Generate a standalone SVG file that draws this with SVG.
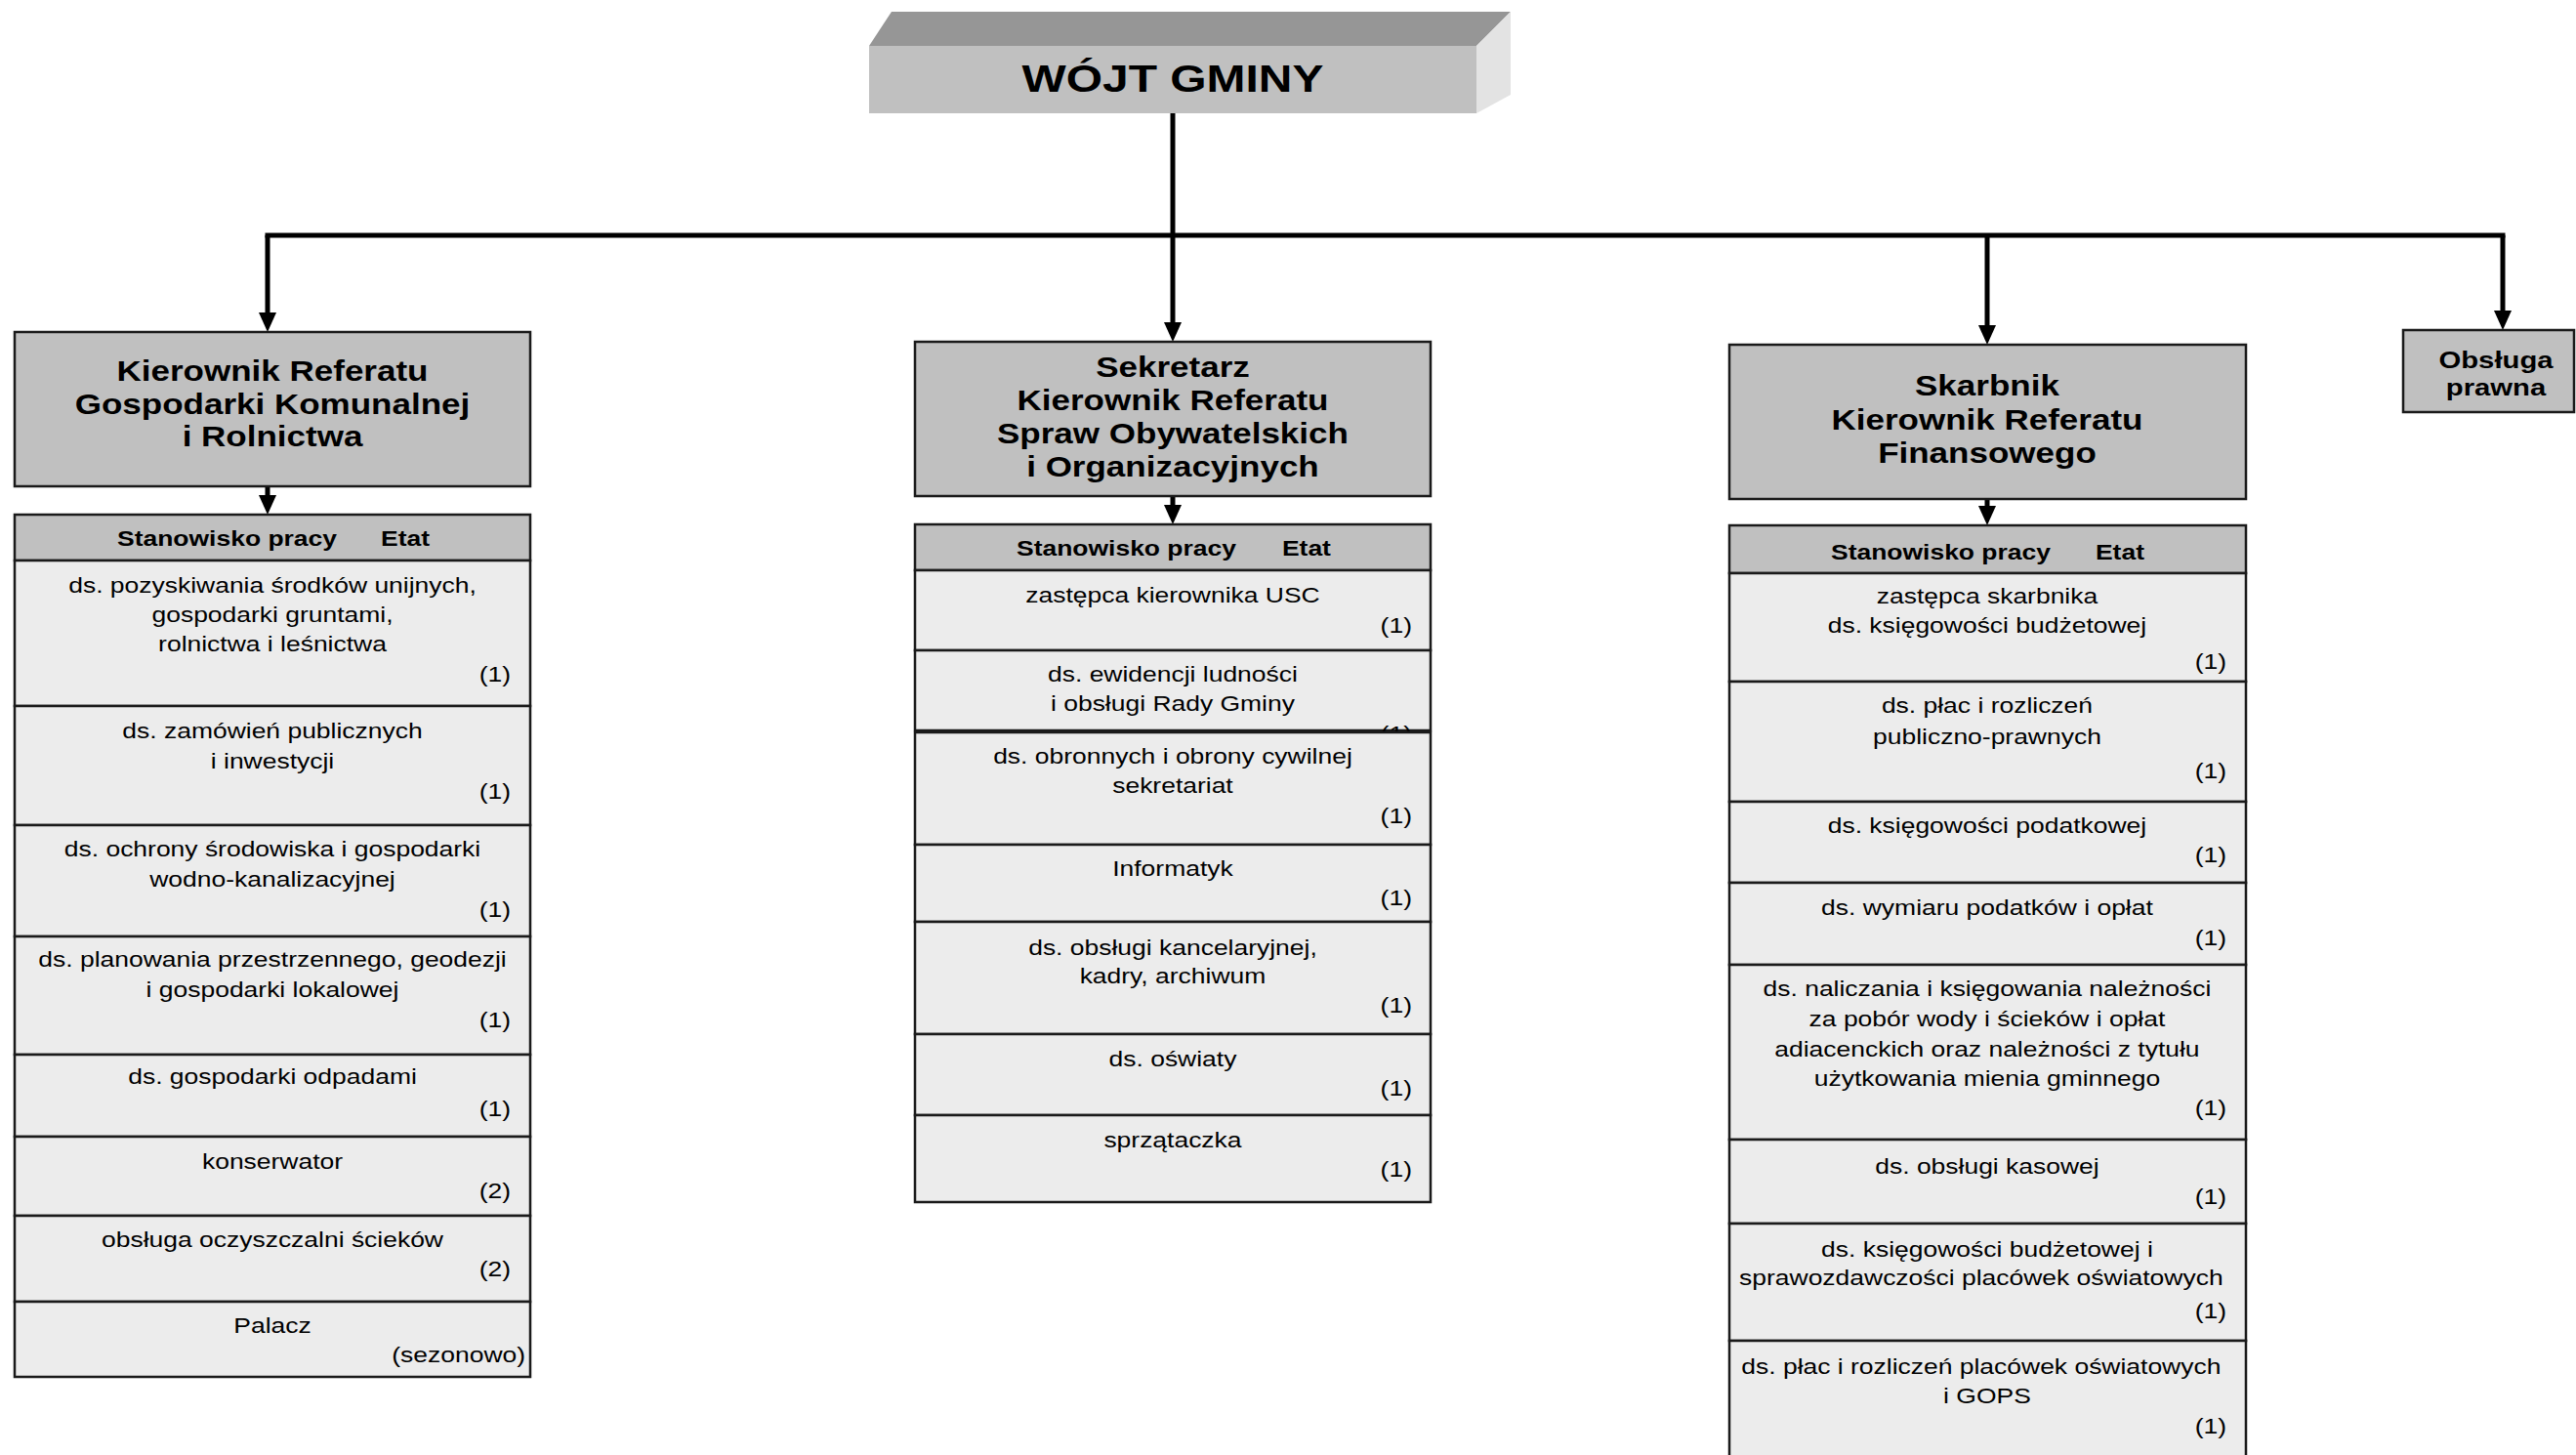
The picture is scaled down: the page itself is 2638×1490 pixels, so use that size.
<svg xmlns="http://www.w3.org/2000/svg" width="2638" height="1490" viewBox="0 0 2638 1490">
<defs>
<marker id="ah" markerUnits="userSpaceOnUse" markerWidth="22" markerHeight="18" viewBox="0 0 22 18" refX="10" refY="9" orient="auto"><path d="M0,0 L20,9 L0,18 z" fill="#000"/></marker>
</defs>
<style>
.hd{fill:#c0c0c0;stroke:#1a1a1a;stroke-width:2.5}
.rw{fill:#ececec;stroke:#1a1a1a;stroke-width:2.5}
text{font-family:"Liberation Sans",Arial,sans-serif;fill:#000;transform:scale(1.22,1)}
.t{font-size:21.7px;text-anchor:middle}
.n{font-size:21.7px;text-anchor:end}
.h{font-size:21.7px;font-weight:bold}
.b{font-size:28.7px;font-weight:bold;text-anchor:middle}
.c{stroke:#000;stroke-width:5;fill:none}
</style>
<rect width="2638" height="1490" fill="#fff"/>

<g id="wojt">
<polygon points="890,47 913,12 1547,12 1512,47" fill="#969696"/>
<polygon points="1512,47 1547,12 1547,97 1512,116" fill="#e3e3e3"/>
<rect x="890" y="47" width="622" height="69" fill="#c0c0c0"/>
<text x="984.4" y="94" style="font-size:39.3px;font-weight:bold;text-anchor:middle">WÓJT GMINY</text>
</g>

<g id="connectors">
<path class="c" d="M1201,116 V241"/>
<path class="c" d="M274,241 H2563" stroke-linecap="square"/>
<path class="c" d="M274,241 V330" marker-end="url(#ah)"/>
<path class="c" d="M1201,241 V340" marker-end="url(#ah)"/>
<path class="c" d="M2035,241 V343" marker-end="url(#ah)"/>
<path class="c" d="M2563,241 V328" marker-end="url(#ah)"/>
<path class="c" d="M274,498 V517" marker-end="url(#ah)"/>
<path class="c" d="M1201,508 V527" marker-end="url(#ah)"/>
<path class="c" d="M2035,511 V528" marker-end="url(#ah)"/>
</g>

<g id="obsluga-prawna">
<rect class="hd" x="2461" y="338" width="175" height="84"/>
<text x="2095.1" y="377" style="font-size:24px;font-weight:bold;text-anchor:middle">Obsługa</text>
<text x="2095.1" y="405" style="font-size:24px;font-weight:bold;text-anchor:middle">prawna</text>
</g>

<g id="kierownik-gk">
<rect class="hd" x="15" y="340" width="528" height="158"/>
<text class="b" x="228.7" y="390">Kierownik Referatu</text>
<text class="b" x="228.7" y="424">Gospodarki Komunalnej</text>
<text class="b" x="228.7" y="457">i Rolnictwa</text>
</g>

<g id="tabela-gk">
<rect class="hd" x="15" y="527" width="528" height="47"/>
<text class="h" y="559"><tspan x="98.4">Stanowisko pracy</tspan><tspan x="319.7">Etat</tspan></text>
<rect class="rw" x="15" y="574" width="528" height="149"/>
<text class="t" x="228.7" y="607">ds. pozyskiwania środków unijnych,</text>
<text class="t" x="228.7" y="637">gospodarki gruntami,</text>
<text class="t" x="228.7" y="667">rolnictwa i leśnictwa</text>
<text class="n" x="428.7" y="698">(1)</text>
<rect class="rw" x="15" y="723" width="528" height="122"/>
<text class="t" x="228.7" y="756">ds. zamówień publicznych</text>
<text class="t" x="228.7" y="787">i inwestycji</text>
<text class="n" x="428.7" y="818">(1)</text>
<rect class="rw" x="15" y="845" width="528" height="114"/>
<text class="t" x="228.7" y="877">ds. ochrony środowiska i gospodarki</text>
<text class="t" x="228.7" y="908">wodno-kanalizacyjnej</text>
<text class="n" x="428.7" y="939">(1)</text>
<rect class="rw" x="15" y="959" width="528" height="121"/>
<text class="t" x="228.7" y="990">ds. planowania przestrzennego, geodezji</text>
<text class="t" x="228.7" y="1021">i gospodarki lokalowej</text>
<text class="n" x="428.7" y="1052">(1)</text>
<rect class="rw" x="15" y="1080" width="528" height="84"/>
<text class="t" x="228.7" y="1110">ds. gospodarki odpadami</text>
<text class="n" x="428.7" y="1143">(1)</text>
<rect class="rw" x="15" y="1164" width="528" height="81"/>
<text class="t" x="228.7" y="1197">konserwator</text>
<text class="n" x="428.7" y="1227">(2)</text>
<rect class="rw" x="15" y="1245" width="528" height="88"/>
<text class="t" x="228.7" y="1277">obsługa oczyszczalni ścieków</text>
<text class="n" x="428.7" y="1307">(2)</text>
<rect class="rw" x="15" y="1333" width="528" height="77"/>
<text class="t" x="228.7" y="1365">Palacz</text>
<text class="n" x="441" y="1395">(sezonowo)</text>
</g>

<g id="kierownik-so">
<rect class="hd" x="937" y="350" width="528" height="158"/>
<text class="b" x="984.4" y="386">Sekretarz</text>
<text class="b" x="984.4" y="420">Kierownik Referatu</text>
<text class="b" x="984.4" y="454">Spraw Obywatelskich</text>
<text class="b" x="984.4" y="488">i Organizacyjnych</text>
</g>

<g id="tabela-so">
<rect class="hd" x="937" y="537" width="528" height="47"/>
<text class="h" y="569"><tspan x="853.3">Stanowisko pracy</tspan><tspan x="1076.2">Etat</tspan></text>
<rect class="rw" x="937" y="584" width="528" height="82"/>
<text class="t" x="984.4" y="617">zastępca kierownika USC</text>
<text class="n" x="1185.2" y="648">(1)</text>
<rect class="rw" x="937" y="666" width="528" height="82"/>
<text class="t" x="984.4" y="698">ds. ewidencji ludności</text>
<text class="t" x="984.4" y="728">i obsługi Rady Gminy</text>
<text class="n" x="1185.2" y="759">(1)</text>
<rect class="rw" x="937" y="750" width="528" height="115"/>
<text class="t" x="984.4" y="782">ds. obronnych i obrony cywilnej</text>
<text class="t" x="984.4" y="812">sekretariat</text>
<text class="n" x="1185.2" y="843">(1)</text>
<rect class="rw" x="937" y="865" width="528" height="79"/>
<text class="t" x="984.4" y="897">Informatyk</text>
<text class="n" x="1185.2" y="927">(1)</text>
<rect class="rw" x="937" y="944" width="528" height="115"/>
<text class="t" x="984.4" y="978">ds. obsługi kancelaryjnej,</text>
<text class="t" x="984.4" y="1007">kadry, archiwum</text>
<text class="n" x="1185.2" y="1037">(1)</text>
<rect class="rw" x="937" y="1059" width="528" height="83"/>
<text class="t" x="984.4" y="1092">ds. oświaty</text>
<text class="n" x="1185.2" y="1122">(1)</text>
<rect class="rw" x="937" y="1142" width="528" height="89"/>
<text class="t" x="984.4" y="1175">sprzątaczka</text>
<text class="n" x="1185.2" y="1205">(1)</text>
</g>

<g id="kierownik-fin">
<rect class="hd" x="1771" y="353" width="529" height="158"/>
<text class="b" x="1668" y="405">Skarbnik</text>
<text class="b" x="1668" y="440">Kierownik Referatu</text>
<text class="b" x="1668" y="474">Finansowego</text>
</g>

<g id="tabela-fin">
<rect class="hd" x="1771" y="538" width="529" height="49"/>
<text class="h" y="573"><tspan x="1536.9">Stanowisko pracy</tspan><tspan x="1759">Etat</tspan></text>
<rect class="rw" x="1771" y="587" width="529" height="111"/>
<text class="t" x="1668" y="618">zastępca skarbnika</text>
<text class="t" x="1668" y="648">ds. księgowości budżetowej</text>
<text class="n" x="1868.9" y="685">(1)</text>
<rect class="rw" x="1771" y="698" width="529" height="123"/>
<text class="t" x="1668" y="730">ds. płac i rozliczeń</text>
<text class="t" x="1668" y="762">publiczno-prawnych</text>
<text class="n" x="1868.9" y="797">(1)</text>
<rect class="rw" x="1771" y="821" width="529" height="83"/>
<text class="t" x="1668" y="853">ds. księgowości podatkowej</text>
<text class="n" x="1868.9" y="883">(1)</text>
<rect class="rw" x="1771" y="904" width="529" height="84"/>
<text class="t" x="1668" y="937">ds. wymiaru podatków i opłat</text>
<text class="n" x="1868.9" y="968">(1)</text>
<rect class="rw" x="1771" y="988" width="529" height="179"/>
<text class="t" x="1668" y="1020">ds. naliczania i księgowania należności</text>
<text class="t" x="1668" y="1051">za pobór wody i ścieków i opłat</text>
<text class="t" x="1668" y="1082">adiacenckich oraz należności z tytułu</text>
<text class="t" x="1668" y="1112">użytkowania mienia gminnego</text>
<text class="n" x="1868.9" y="1142">(1)</text>
<rect class="rw" x="1771" y="1167" width="529" height="86"/>
<text class="t" x="1668" y="1202">ds. obsługi kasowej</text>
<text class="n" x="1868.9" y="1233">(1)</text>
<rect class="rw" x="1771" y="1253" width="529" height="120"/>
<text class="t" x="1668" y="1287">ds. księgowości budżetowej i</text>
<text class="t" x="1663" y="1316">sprawozdawczości placówek oświatowych</text>
<text class="n" x="1868.9" y="1350">(1)</text>
<rect class="rw" x="1771" y="1373" width="529" height="130"/>
<text class="t" x="1663" y="1407">ds. płac i rozliczeń placówek oświatowych</text>
<text class="t" x="1668" y="1437">i GOPS</text>
<text class="n" x="1868.9" y="1468">(1)</text>
</g>
</svg>
